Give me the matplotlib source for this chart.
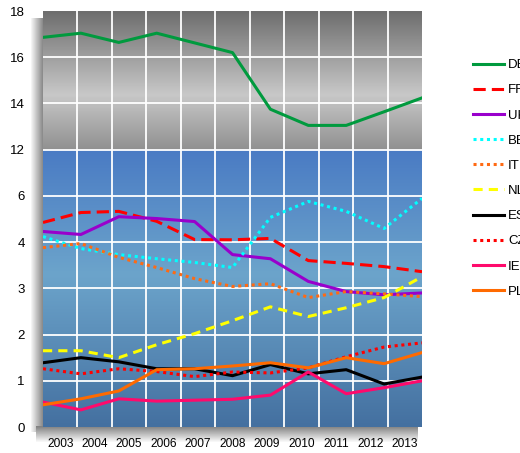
import numpy as np
import matplotlib
matplotlib.use("Agg")
from matplotlib import pyplot as plt

plt.rcParams['font.family'] = ['Liberation Sans', 'DejaVu Sans']

years = [2003, 2004, 2005, 2006, 2007, 2008, 2009, 2010, 2011, 2012, 2013]

DE = [16.86, 17.04, 16.64, 17.04, 16.62, 16.2, 13.75, 13.05, 13.05, 13.64, 14.24]
FR = [4.85, 5.28, 5.33, 4.9, 4.11, 4.1, 4.16, 3.6, 3.54, 3.47, 3.36]
UK = [4.46, 4.33, 5.1, 5.02, 4.89, 3.73, 3.64, 3.15, 2.93, 2.86, 2.9]
BE = [4.24, 3.86, 3.73, 3.64, 3.56, 3.45, 5.07, 5.76, 5.33, 4.59, 5.89]
IT = [3.88, 3.97, 3.67, 3.45, 3.21, 3.04, 3.1, 2.8, 2.93, 2.88, 2.82]
NL = [1.65, 1.65, 1.5, 1.78, 2.02, 2.3, 2.6, 2.39, 2.58, 2.8, 3.25]
ES = [1.39, 1.5, 1.41, 1.26, 1.26, 1.11, 1.35, 1.15, 1.24, 0.93, 1.08]
CZ = [1.26, 1.15, 1.26, 1.2, 1.09, 1.19, 1.17, 1.28, 1.52, 1.73, 1.82]
IE = [0.54, 0.37, 0.61, 0.56, 0.58, 0.6, 0.69, 1.19, 0.72, 0.85, 1.0]
PL = [0.48, 0.61, 0.78, 1.24, 1.26, 1.32, 1.39, 1.28, 1.5, 1.37, 1.61]

# broken y axis: equal spacing between these values
y_breaks = [0, 1, 2, 3, 4, 6, 12, 14, 16, 18]
y_pos = np.arange(len(y_breaks))

def fwd(v):
    return np.interp(v, y_breaks, y_pos)

def inv(p):
    return np.interp(p, y_pos, y_breaks)

W, H = 520, 453
fig = plt.figure(figsize=(W / 100, H / 100), dpi=100)

def px(x0, y0, x1, y1):
    # pixel box (top-left origin) -> figure rect
    return [x0 / W, 1 - y1 / H, (x1 - x0) / W, (y1 - y0) / H]

# shadows
sh = fig.add_axes(px(31, 18, 44, 432))
sh.imshow(np.linspace(0.97, 0.5, 40)[None, :], cmap='gray', vmin=0, vmax=1,
          aspect='auto', extent=(0, 1, 0, 1))
sh.axis('off')
sh2 = fig.add_axes(px(36, 426, 418, 442))
sh2.imshow(np.linspace(0.5, 0.98, 40)[:, None], cmap='gray', vmin=0, vmax=1,
           aspect='auto', extent=(0, 1, 0, 1))
sh2.axis('off')

rect = px(43, 11, 422, 427)

# gradient background
bg = fig.add_axes(rect)
n = 300
t = np.linspace(0, 1, n)[:, None]  # 0 top, 1 bottom
img = np.zeros((n, 1, 3))
split = 3 / 9
gray_top = np.array([0x6e, 0x6e, 0x6e]) / 255
gray_mid = np.array([0xc8, 0xc8, 0xc8]) / 255
gray_bot = np.array([0x90, 0x90, 0x90]) / 255
blue_top = np.array([0x4a, 0x7b, 0xc4]) / 255
blue_mid = np.array([0x6c, 0xa4, 0xcb]) / 255
blue_bot = np.array([0x44, 0x70, 0xa0]) / 255
for i in range(n):
    s = t[i, 0]
    if s < split:
        u = s / split
        if u < 0.6:
            c = gray_top + (gray_mid - gray_top) * (u / 0.6)
        else:
            c = gray_mid + (gray_bot - gray_mid) * ((u - 0.6) / 0.4)
    else:
        u = (s - split) / (1 - split)
        if u < 0.45:
            c = blue_top + (blue_mid - blue_top) * (u / 0.45)
        else:
            c = blue_mid + (blue_bot - blue_mid) * ((u - 0.45) / 0.55)
    img[i, 0] = c
bg.imshow(img, aspect='auto', extent=(0, 1, 0, 1))
bg.axis('off')

ax = fig.add_axes(rect)
ax.patch.set_alpha(0)
ax.set_yscale('function', functions=(fwd, inv))
ax.set_ylim(0, 18)
ax.set_xlim(2003, 2013)

ncat = len(years)
span = years[-1] - years[0]
edges = [years[0] + i * span / ncat for i in range(ncat + 1)]
centers = [years[0] + (i + 0.5) * span / ncat for i in range(ncat)]
for e in edges[1:-1]:
    ax.axvline(e, color='white', lw=1.3, zorder=1)
for v in y_breaks[1:-1]:
    ax.axhline(v, color='white', lw=1.3, zorder=1)

ax.set_xticks(centers)
ax.set_xticklabels([str(y) for y in years], fontsize=8.6)
ax.set_yticks(y_breaks)
ax.set_yticklabels([str(v) for v in y_breaks], fontsize=9.5)
ax.tick_params(length=0)
ax.tick_params(axis='y', pad=13)
ax.tick_params(axis='x', pad=8)
for s in ax.spines.values():
    s.set_visible(False)

lw = 2.2
ax.plot(years, DE, color='#009a3e', lw=lw, label='DE')
ax.plot(years, FR, color='#ff0000', lw=lw, ls=(0, (4, 2)), label='FR')
ax.plot(years, UK, color='#9900cc', lw=lw, label='UK')
ax.plot(years, BE, color='#00ffff', lw=lw, ls=(0, (1, 1.2)), label='BE')
ax.plot(years, IT, color='#ff6a13', lw=lw, ls=(0, (1, 1.2)), label='IT')
ax.plot(years, NL, color='#ffff00', lw=lw, ls=(0, (3, 2)), label='NL')
ax.plot(years, ES, color='#000000', lw=lw, label='ES')
ax.plot(years, CZ, color='#ff0000', lw=lw, ls=(0, (1, 1.2)), label='CZ')
ax.plot(years, IE, color='#ff0a6c', lw=lw, label='IE')
ax.plot(years, PL, color='#ff6a00', lw=lw, label='PL')

handles, labels = ax.get_legend_handles_labels()
fig.legend(handles, labels, loc='upper left', bbox_to_anchor=(473 / W, 1 - 59 / H),
           frameon=False, fontsize=9.5, borderpad=0, borderaxespad=0,
           handlelength=2.35, handletextpad=0.3, labelspacing=0.98)

fig.savefig('out.png', dpi=100)
